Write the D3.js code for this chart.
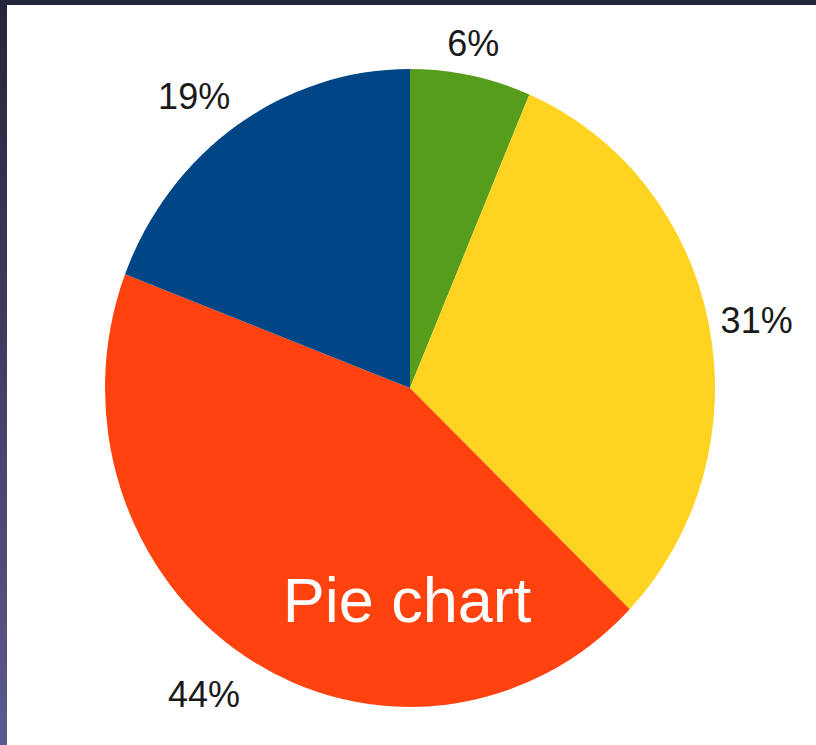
<!DOCTYPE html>
<html>
<head>
<meta charset="utf-8">
<script src="https://cdn.jsdelivr.net/npm/d3@7"></script>
<style>
  html, body { margin: 0; padding: 0; background: #ffffff; }
  svg { display: block; }
  text { font-family: "Liberation Sans", Arial, sans-serif; }
</style>
</head>
<body>
<svg id="chart" width="816" height="745"></svg>
<script>
// ---- data ----
const categories = ["A", "B", "C", "D"];
const values = [6.4, 30.8, 43.6, 19.2];
const labels = ["6%", "31%", "44%", "19%"];
const colors = ["#579d1c", "#ffd320", "#ff420e", "#004586"];
const title = "Pie chart";

// ---- layout ----
const W = 816, H = 745;
const cx = 410, cy = 388;
const rx = 305, ry = 319;
const ky = ry / rx;
const gapX = 12, gapY = 20;
const fontSize = 36;
const capH = fontSize * 0.716;
const ascent = fontSize * 0.905;

const svg = d3.select("#chart");

// frame background
const defs = svg.append("defs");
const grad = defs.append("linearGradient").attr("id", "edge")
  .attr("x1", 0).attr("y1", 0).attr("x2", 0).attr("y2", 1);
grad.append("stop").attr("offset", "0%").attr("stop-color", "#25253b");
grad.append("stop").attr("offset", "100%").attr("stop-color", "#5b5a8e");

svg.append("rect").attr("width", W).attr("height", H).attr("fill", "#ffffff");
svg.append("rect").attr("x", 0).attr("y", 0).attr("width", 7).attr("height", H).attr("fill", "url(#edge)");
svg.append("rect").attr("x", 0).attr("y", 0).attr("width", W).attr("height", 5).attr("fill", "#25253b");

// pie
const pie = d3.pie().value(d => d).sort(null);
const arcs = pie(values);
const arc = d3.arc().innerRadius(0).outerRadius(rx);

const g = svg.append("g").attr("transform", `translate(${cx},${cy}) scale(1,${ky})`);
g.selectAll("path").data(arcs).join("path")
  .attr("d", arc)
  .attr("fill", (d, i) => colors[i]);

// labels
svg.append("g").selectAll("text").data(arcs).join("text")
  .each(function(d, i) {
    const a = (d.startAngle + d.endAngle) / 2;
    const s = Math.sin(a), c = Math.cos(a);
    const px = cx + (rx + gapX) * s;
    const py = cy - (ry + gapY) * c;
    let anchor = "middle";
    if (s > 0.3) anchor = "start"; else if (s < -0.3) anchor = "end";
    let by;
    if (c > 0.3) by = py;                 // text sits above point
    else if (c < -0.3) by = py + ascent;  // text hangs below point
    else by = py + capH / 2;
    d3.select(this)
      .attr("x", px).attr("y", by)
      .attr("text-anchor", anchor)
      .attr("font-size", fontSize)
      .attr("fill", "#1a1a1a")
      .text(labels[i]);
  });

// title inside pie
svg.append("text")
  .attr("x", cx - 3)
  .attr("y", cy + 0.735 * ry)
  .attr("text-anchor", "middle")
  .attr("font-size", 63)
  .attr("fill", "#ffffff")
  .text(title);
</script>
</body>
</html>
